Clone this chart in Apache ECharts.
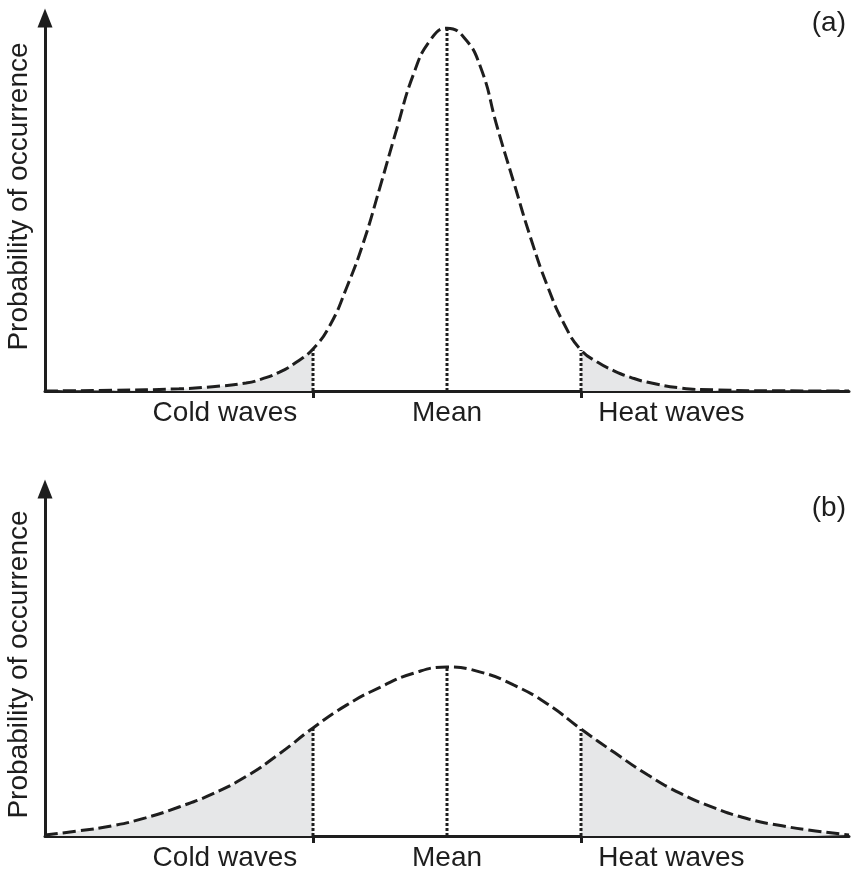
<!DOCTYPE html>
<html>
<head>
<meta charset="utf-8">
<script src="https://cdn.jsdelivr.net/npm/echarts@6/dist/echarts.min.js"></script>
<style>html,body{margin:0;padding:0;background:#fff;}#c{width:852px;height:873px;}</style>
</head>
<body>
<div id="c"></div>
<script>
// x positions in units of the panel-(a) spread (mean = 0, extremes boundaries at -1 and +1)
const xA = [-3, -2.5, -2, -1.75, -1.5, -1.375, -1.25, -1.125, -1, -0.875, -0.75, -0.625, -0.5, -0.375, -0.25, -0.125, 0,
            0.125, 0.25, 0.375, 0.5, 0.625, 0.75, 0.875, 1, 1.125, 1.25, 1.375, 1.5, 1.75, 2, 2.5, 3];
const probA = [0, 0.2, 0.6, 1.2, 2.2, 3.4, 5.2, 7.9, 11.6, 18.0, 28.4, 40.8, 56.2, 72.2, 87.3, 96.7, 100,
               97.5, 89.3, 72.7, 57.3, 42.1, 28.9, 18.4, 11.3, 7.9, 5.5, 3.7, 2.4, 0.8, 0.3, 0.05, 0];
const xB = [-3, -2.75, -2.5, -2.25, -2, -1.75, -1.5, -1.25, -1, -0.75, -0.5, -0.25, 0,
            0.25, 0.5, 0.75, 1, 1.25, 1.5, 1.75, 2, 2.25, 2.5, 2.75, 3];
const probB = [0.3, 1.4, 2.8, 5.0, 8.0, 11.6, 16.4, 22.7, 29.8, 36.1, 41.0, 44.9, 46.6,
               45.2, 41.6, 36.4, 29.5, 23.0, 16.8, 11.6, 7.7, 4.7, 2.8, 1.4, 0.3];
const boundaries = [-1, 1];
const meanX = 0;
const tickLabels = ['Cold waves', 'Mean', 'Heat waves'];
const labelPositions = [-1.657, 0, 1.675];
const panelLabels = ['(a)', '(b)'];
const yAxisName = 'Probability of occurrence';

const INK = '#1e1e1e';
const FILL = '#e6e7e8';
const FONT = 'Liberation Sans, Arial, sans-serif';
const FS = 28;

function pairs(xs, ys) { return xs.map((x, i) => [x, ys[i]]); }
function valAt(xs, ys, x) { return ys[xs.indexOf(x)]; }

const grids = [
  { left: 45, right: 3, top: 18, height: 373, outerBoundsMode: 'none', containLabel: false },
  { left: 45, right: 3, top: 489, height: 347, outerBoundsMode: 'none', containLabel: false }
];
const yMax = [102.8, 95.7];
const namePad = [[0, 0, 0, 16], [0, 4, 0, 0]];
const panels = [[xA, probA], [xB, probB]];

const xAxes = grids.map((g, i) => ({
  type: 'value', gridIndex: i, min: -3, max: 3,
  splitLine: { show: false },
  axisLine: { show: true, onZero: false, lineStyle: { color: INK, width: 3 } },
  axisTick: { show: true, customValues: boundaries, length: 7, inside: false, lineStyle: { color: INK, width: 3 } },
  axisLabel: {
    show: true, customValues: labelPositions, margin: 8,
    fontSize: FS, fontFamily: FONT, color: INK,
    formatter: v => { const k = labelPositions.findIndex(p => Math.abs(p - v) < 1e-6); return k >= 0 ? tickLabels[k] : ''; }
  }
}));
const yAxes = grids.map((g, i) => ({
  type: 'value', gridIndex: i, min: 0, max: yMax[i],
  name: yAxisName, nameLocation: 'middle', nameGap: 12, nameRotate: 90,
  nameTextStyle: { fontSize: FS, fontFamily: FONT, color: INK, padding: namePad[i] },
  splitLine: { show: false }, axisTick: { show: false }, axisLabel: { show: false },
  axisLine: { show: true, onZero: false, symbol: ['none', 'triangle'], symbolSize: [15, 19], lineStyle: { color: INK, width: 3 } }
}));

const series = [];
panels.forEach(([xs, ys], i) => {
  const data = pairs(xs, ys);
  const left = data.filter(d => d[0] <= boundaries[0]);
  const right = data.filter(d => d[0] >= boundaries[1]);
  [left, right].forEach(part => series.push({
    type: 'line', xAxisIndex: i, yAxisIndex: i, data: part, smooth: 0.5, symbol: 'none',
    lineStyle: { width: 0, opacity: 0 }, areaStyle: { color: FILL, opacity: 1 }, z: 1, silent: true
  }));
  boundaries.concat([meanX]).forEach(b => series.push({
    type: 'line', xAxisIndex: i, yAxisIndex: i, symbol: 'none', silent: true, z: 2,
    data: [[b, 0], [b, valAt(xs, ys, b)]],
    lineStyle: { color: INK, width: 3, type: [3, 2] }
  }));
  series.push({
    type: 'line', xAxisIndex: i, yAxisIndex: i, data: data, smooth: 0.5, symbol: 'none', z: 3, silent: true,
    lineStyle: { color: INK, width: 3, type: [13, 5] }
  });
});

const chart = echarts.init(document.getElementById('c'), null, { renderer: 'canvas' });
chart.setOption({
  animation: false,
  backgroundColor: '#ffffff',
  title: [
    { text: panelLabels[0], right: 1, top: 4, textStyle: { fontSize: FS, fontWeight: 'normal', fontFamily: FONT, color: INK } },
    { text: panelLabels[1], right: 1, top: 489, textStyle: { fontSize: FS, fontWeight: 'normal', fontFamily: FONT, color: INK } }
  ],
  grid: grids,
  xAxis: xAxes,
  yAxis: yAxes,
  series: series
});
</script>
</body>
</html>
